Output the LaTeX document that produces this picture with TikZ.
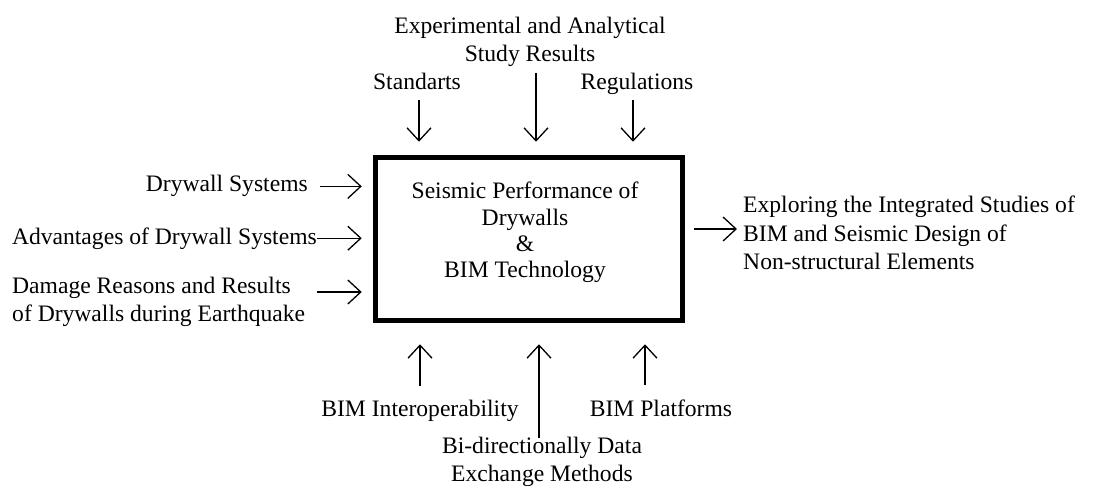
\documentclass[tikz,border=0pt]{standalone}
\usepackage{fontspec}
\setmainfont{Liberation Serif}
\usetikzlibrary{arrows.meta,calc}
\begin{document}
\begin{tikzpicture}[x=1pt,y=-1pt,
  lbl/.style={inner sep=0pt, font=\fontsize{23.6}{28.3}\selectfont},
  boxtext/.style={inner sep=0pt, font=\fontsize{23.6}{26.3}\selectfont},
  arr/.style={-{Straight Barb[length=13pt,width=24pt]}, line width=1.3pt},
  mainbox/.style={draw, line width=4.5pt, minimum width=307pt, minimum height=163pt, inner sep=0pt}]
\useasboundingbox (0,0) rectangle (1094,486);

% central process box
\node[mainbox] (box) at (529,239) {};
\node[boxtext, align=center, anchor=north] (title) at (525,181.9)
  {Seismic Performance of\\Drywalls\\\&\\BIM Technology};

% controls (top)
\node[lbl, align=center, anchor=north] (exp) at (530,16.9)
  {Experimental and Analytical\\Study Results};
\node[lbl, anchor=base] (std) at (417,90) {Standarts};
\node[lbl, anchor=base] (reg) at (637,90) {Regulations};

\draw[arr] ([xshift=2pt,yshift=-10pt]std.base) -- ([xshift=2pt,yshift=13.5pt]std.base |- box.north);
\draw[arr] ([xshift=6pt,yshift=-6pt]exp.south) -- ([xshift=6pt,yshift=13.5pt]exp.south |- box.north);
\draw[arr] ([xshift=-4pt,yshift=-10pt]reg.base) -- ([xshift=-4pt,yshift=13.5pt]reg.base |- box.north);

% inputs (left)
\node[lbl, anchor=base east] (dw) at (308,192) {Drywall Systems};
\node[lbl, anchor=base east] (adv) at (317,245) {Advantages of Drywall Systems};
\node[lbl, align=left, anchor=north west] (dmg) at (12,277)
  {Damage Reasons and Results\\of Drywalls during Earthquake};

\draw[arr] ([xshift=12pt]dw.east) -- ([xshift=-11.5pt]dw.east -| box.west);
\draw[arr] ([yshift=1pt]adv.east) -- ([xshift=-11.5pt,yshift=1pt]adv.east -| box.west);
\draw[arr] ([xshift=12pt,yshift=-15pt]dmg.north east) coordinate (d0)
  -- ([xshift=-11.5pt]d0 -| box.west);

% output (right)
\node[lbl, align=left, anchor=north west] (res) at (743,196)
  {Exploring the Integrated Studies of\\BIM and Seismic Design of\\Non-structural Elements};
\draw[arr] ([xshift=9.5pt,yshift=10pt]box.east) coordinate (r0)
  -- ([xshift=-6pt]r0 -| res.west);

% mechanisms (bottom)
\node[lbl, anchor=base] (bint) at (420,416) {BIM Interoperability};
\node[lbl, anchor=base] (bplat) at (661,416) {BIM Platforms};
\node[lbl, align=center, anchor=north] (bidir) at (542,437)
  {Bi-directionally Data\\Exchange Methods};

\draw[arr] ([yshift=13pt]bint.north) -- ([yshift=-21.5pt]bint.north |- box.south);
\draw[arr] ([xshift=-16pt,yshift=14pt]bplat.north) -- ([xshift=-16pt,yshift=-21.5pt]bplat.north |- box.south);
\draw[arr] ([xshift=-3pt,yshift=-1pt]bidir.north) -- ([xshift=-3pt,yshift=-21.5pt]bidir.north |- box.south);
\end{tikzpicture}
\end{document}
